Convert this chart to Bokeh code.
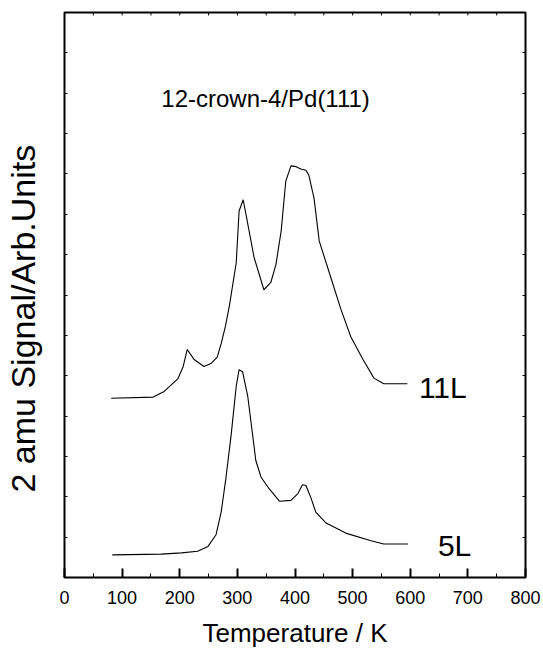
import math
from bokeh.plotting import figure
from bokeh.models import FixedTicker, LinearAxis, Label, Range1d, Title
from bokeh.embed import file_html
from bokeh.resources import INLINE

# 11L trace (Temperature / K, signal arb. units)
t_11L = [81, 154, 173, 197, 206, 213, 225, 242, 255, 265, 272, 279, 286, 298, 303, 310,
         315, 329, 346, 358, 367, 376, 384, 393, 402, 410, 419, 424, 433, 442, 462, 480,
         497, 518, 537, 554, 595]
s_11L = [4.44, 4.47, 4.61, 4.93, 5.23, 5.65, 5.40, 5.23, 5.31, 5.46, 5.80, 6.21, 6.72,
         7.80, 9.08, 9.36, 8.99, 7.93, 7.13, 7.31, 7.76, 8.59, 9.82, 10.20, 10.18, 10.12,
         10.09, 9.97, 9.40, 8.34, 7.44, 6.63, 5.96, 5.40, 4.94, 4.80, 4.80]

# 5L trace
t_5L = [83, 168, 203, 231, 249, 263, 272, 280, 289, 298, 303, 309, 318, 332, 341, 355,
        373, 393, 405, 413, 419, 428, 436, 454, 488, 532, 554, 596]
s_5L = [0.56, 0.58, 0.61, 0.65, 0.77, 1.06, 1.63, 2.45, 3.51, 4.74, 5.15, 5.10, 4.49,
        2.90, 2.49, 2.20, 1.89, 1.91, 2.08, 2.30, 2.28, 1.96, 1.62, 1.35, 1.10, 0.91,
        0.83, 0.83]

x_ticks = list(range(0, 801, 100))
x_minor = list(range(0, 801, 50))
y_ticks = list(range(1, 14))

FONT = "Liberation Sans"
Y_MAX = 14

p = figure(width=543, height=650, output_backend="svg", toolbar_location=None,
           x_range=Range1d(0, 800), y_range=Range1d(0, Y_MAX),
           min_border_left=63, min_border_right=18, min_border_top=12,
           min_border_bottom=67, background_fill_color="white",
           border_fill_color="white")
p.grid.visible = False
p.outline_line_color = "black"
p.outline_line_width = 2

# bottom axis
xa = p.xaxis[0]
xa.ticker = FixedTicker(ticks=x_ticks, minor_ticks=x_minor)
xa.major_tick_in = 9
xa.major_tick_out = 0
xa.minor_tick_in = 4
xa.minor_tick_out = 0
xa.major_tick_line_width = 2
xa.minor_tick_line_width = 1
xa.axis_line_color = None
xa.major_label_text_font = FONT
xa.major_label_text_font_size = "18px"
xa.major_label_text_color = "black"
xa.major_label_standoff = 13
xa.axis_label = "Temperature / K"
xa.axis_label_text_font = FONT
xa.axis_label_text_font_size = "26px"
xa.axis_label_text_font_style = "normal"
xa.axis_label_text_color = "black"
xa.axis_label_standoff = 11

# left axis: visible inner ticks are drawn as minor ticks; the invisible
# outward major ticks only reserve room between the frame and the axis title
ya = p.yaxis[0]
ya.ticker = FixedTicker(ticks=y_ticks, minor_ticks=y_ticks)
ya.major_tick_in = 0
ya.major_tick_out = 22
ya.major_tick_line_color = None
ya.minor_tick_in = 3
ya.minor_tick_out = 0
ya.minor_tick_line_color = "black"
ya.minor_tick_line_width = 1
ya.axis_line_color = None
ya.major_label_text_font_size = "0px"
ya.major_label_standoff = 0

# right axis
ra = LinearAxis(ticker=FixedTicker(ticks=y_ticks, minor_ticks=[]),
                major_tick_in=3, major_tick_out=0, axis_line_color=None,
                major_label_text_font_size="0px", major_label_standoff=0)
p.add_layout(ra, "right")

# top-edge inner ticks every 50 K
tick_len = 3 * Y_MAX / 571.0
p.segment(x0=x_minor, y0=[Y_MAX] * len(x_minor), x1=x_minor,
          y1=[Y_MAX - tick_len] * len(x_minor), line_color="black", line_width=1)

p.line(t_11L, s_11L, line_color="black", line_width=1.1)
p.line(t_5L, s_5L, line_color="black", line_width=1.1)

p.add_layout(Label(x=615, y=4.72, text="11L", text_font=FONT, text_font_size="30px",
                   text_color="black", text_align="left", text_baseline="alphabetic"))
p.add_layout(Label(x=648, y=0.79, text="5L", text_font=FONT, text_font_size="30px",
                   text_color="black", text_align="left", text_baseline="alphabetic"))
p.add_layout(Label(x=168, y=11.88, text="12-crown-4/Pd(111)", text_font=FONT,
                   text_font_size="24px", text_color="black", text_align="left",
                   text_baseline="alphabetic"))

# vertical axis title, placed in the left border
p.add_layout(Title(text="2 amu  Signal/Arb.Units", align="left", offset=85,
                   text_font=FONT, text_font_size="34px", text_font_style="normal",
                   text_color="black", standoff=2), "left")

open("out.html", "w").write(file_html(p, INLINE))
